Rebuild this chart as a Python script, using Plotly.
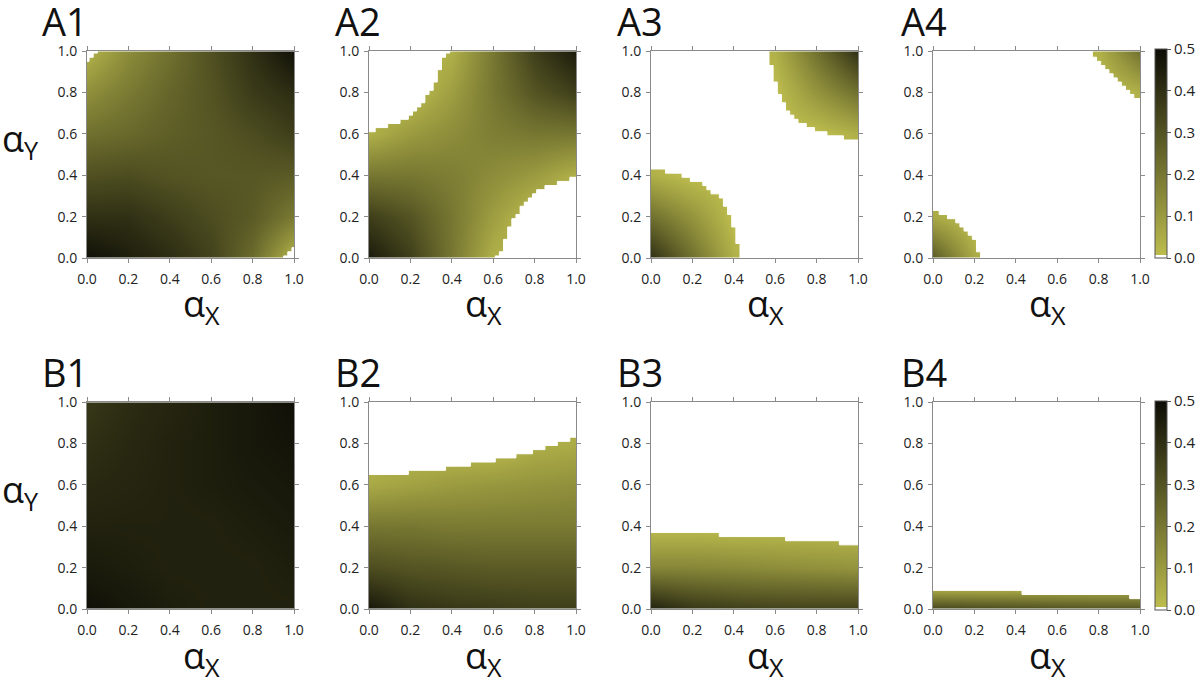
import plotly.graph_objects as go

# ---------------- data ----------------
# colour-field nodes (value of the mapped quantity, 0 .. 0.5)
grid_x = [0.0, 0.2, 0.4, 0.6, 0.8, 1.0]
grid_y = [0.0, 0.2, 0.4, 0.6, 0.8, 1.0]
b4_y = [0.0, 0.1, 0.2, 0.4, 0.6, 0.8, 1.0]

a1_z = [[0.49, 0.45, 0.41, 0.35, 0.23, 0.03],
        [0.40, 0.40, 0.36, 0.32, 0.28, 0.19],
        [0.31, 0.32, 0.30, 0.29, 0.29, 0.28],
        [0.22, 0.24, 0.27, 0.29, 0.32, 0.36],
        [0.13, 0.19, 0.25, 0.30, 0.37, 0.41],
        [0.03, 0.14, 0.22, 0.31, 0.40, 0.49]]
a2_z = [[0.46, 0.36, 0.20, 0.04, 0.00, 0.00],
        [0.36, 0.30, 0.20, 0.09, 0.00, 0.00],
        [0.20, 0.20, 0.18, 0.14, 0.10, 0.04],
        [0.04, 0.10, 0.14, 0.18, 0.20, 0.20],
        [0.00, 0.00, 0.09, 0.20, 0.30, 0.36],
        [0.00, 0.00, 0.04, 0.20, 0.36, 0.46]]
a3_z = [[0.40, 0.22, 0.04, 0.00, 0.00, 0.00],
        [0.22, 0.12, 0.00, 0.00, 0.00, 0.00],
        [0.04, 0.00, 0.00, 0.00, 0.00, 0.00],
        [0.00, 0.00, 0.00, 0.00, 0.00, 0.04],
        [0.00, 0.00, 0.00, 0.00, 0.12, 0.22],
        [0.00, 0.00, 0.00, 0.04, 0.22, 0.40]]
a4_z = [[0.28, 0.06, 0.00, 0.00, 0.00, 0.00],
        [0.06, 0.00, 0.00, 0.00, 0.00, 0.00],
        [0.00, 0.00, 0.00, 0.00, 0.00, 0.00],
        [0.00, 0.00, 0.00, 0.00, 0.00, 0.00],
        [0.00, 0.00, 0.00, 0.00, 0.00, 0.04],
        [0.00, 0.00, 0.00, 0.00, 0.04, 0.22]]
b1_z = [[0.49, 0.47, 0.45, 0.44, 0.44, 0.44],
        [0.46, 0.45, 0.44, 0.44, 0.44, 0.45],
        [0.44, 0.44, 0.44, 0.44, 0.45, 0.46],
        [0.42, 0.43, 0.44, 0.45, 0.46, 0.47],
        [0.40, 0.42, 0.44, 0.45, 0.47, 0.48],
        [0.38, 0.41, 0.43, 0.45, 0.47, 0.49]]
b2_z = [[0.47, 0.40, 0.38, 0.37, 0.36, 0.36],
        [0.32, 0.30, 0.29, 0.28, 0.28, 0.28],
        [0.20, 0.20, 0.19, 0.19, 0.19, 0.19],
        [0.06, 0.08, 0.10, 0.11, 0.12, 0.13],
        [0.00, 0.00, 0.00, 0.00, 0.04, 0.05],
        [0.00, 0.00, 0.00, 0.00, 0.00, 0.00]]
b3_z = [[0.44, 0.38, 0.36, 0.35, 0.35, 0.35],
        [0.16, 0.16, 0.15, 0.14, 0.13, 0.12],
        [0.00, 0.00, 0.00, 0.00, 0.00, 0.00],
        [0.00, 0.00, 0.00, 0.00, 0.00, 0.00],
        [0.00, 0.00, 0.00, 0.00, 0.00, 0.00],
        [0.00, 0.00, 0.00, 0.00, 0.00, 0.00]]
b4_z = [[0.34, 0.33, 0.32, 0.31, 0.30, 0.30],
        [0.04, 0.04, 0.04, 0.04, 0.04, 0.04],
        [0.00, 0.00, 0.00, 0.00, 0.00, 0.00],
        [0.00, 0.00, 0.00, 0.00, 0.00, 0.00],
        [0.00, 0.00, 0.00, 0.00, 0.00, 0.00],
        [0.00, 0.00, 0.00, 0.00, 0.00, 0.00],
        [0.00, 0.00, 0.00, 0.00, 0.00, 0.00]]

# staircase limits of the coloured region (white outside)
# *_top: coloured up to y (white above) from x on;  *_bot: white below y from x on
a1_top_x = [0.00, 0.01, 0.03, 0.05]
a1_top_y = [0.95, 0.97, 0.99, 1.00]
a1_bot_x = [0.00, 0.95, 0.97, 0.99]
a1_bot_y = [0.00, 0.01, 0.03, 0.05]

a2_top_x = [0.00, 0.03, 0.09, 0.15, 0.19, 0.21, 0.23, 0.25, 0.27, 0.29, 0.31, 0.33, 0.35, 0.37, 0.39]
a2_top_y = [0.61, 0.63, 0.65, 0.67, 0.69, 0.71, 0.73, 0.75, 0.79, 0.81, 0.85, 0.91, 0.97, 0.99, 1.00]
a2_bot_x = [0.00, 0.61, 0.63, 0.65, 0.67, 0.69, 0.71, 0.73, 0.75, 0.77, 0.79, 0.81, 0.85, 0.91, 0.97]
a2_bot_y = [0.00, 0.01, 0.03, 0.09, 0.15, 0.19, 0.21, 0.25, 0.27, 0.29, 0.31, 0.33, 0.35, 0.37, 0.39]

a3_top_x = [0.00, 0.07, 0.15, 0.19, 0.25, 0.27, 0.29, 0.33, 0.35, 0.37, 0.39, 0.41, 0.43, 0.57]
a3_top_y = [0.43, 0.41, 0.39, 0.37, 0.35, 0.33, 0.31, 0.29, 0.25, 0.21, 0.15, 0.07, 0.00, 1.00]
a3_bot_x = [0.00, 0.57, 0.59, 0.61, 0.63, 0.65, 0.67, 0.69, 0.71, 0.75, 0.79, 0.85, 0.93]
a3_bot_y = [0.00, 0.93, 0.85, 0.79, 0.75, 0.71, 0.69, 0.67, 0.65, 0.63, 0.61, 0.59, 0.57]

a4_top_x = [0.00, 0.03, 0.07, 0.11, 0.13, 0.15, 0.17, 0.19, 0.21, 0.23, 0.77]
a4_top_y = [0.23, 0.21, 0.19, 0.17, 0.15, 0.13, 0.11, 0.09, 0.03, 0.00, 1.00]
a4_bot_x = [0.00, 0.77, 0.79, 0.81, 0.83, 0.85, 0.87, 0.89, 0.91, 0.93, 0.95, 0.97]
a4_bot_y = [0.00, 0.97, 0.95, 0.93, 0.91, 0.89, 0.87, 0.85, 0.83, 0.81, 0.79, 0.77]

b1_top_x = [0.00]
b1_top_y = [1.00]
b2_top_x = [0.00, 0.19, 0.37, 0.49, 0.61, 0.71, 0.79, 0.85, 0.91, 0.97]
b2_top_y = [0.65, 0.67, 0.69, 0.71, 0.73, 0.75, 0.77, 0.79, 0.81, 0.83]
b3_top_x = [0.00, 0.33, 0.65, 0.91]
b3_top_y = [0.37, 0.35, 0.33, 0.31]
b4_top_x = [0.00, 0.43, 0.95]
b4_top_y = [0.09, 0.07, 0.05]
b_bot_x = [0.00]
b_bot_y = [0.00]

panel_labels = ["A1", "A2", "A3", "A4", "B1", "B2", "B3", "B4"]
tick_vals = [0.0, 0.2, 0.4, 0.6, 0.8, 1.0]
tick_text = ["0.0", "0.2", "0.4", "0.6", "0.8", "1.0"]
cbar_vals = [0.0, 0.1, 0.2, 0.3, 0.4, 0.5]
cbar_text = ["0.0", "0.1", "0.2", "0.3", "0.4", "0.5"]

# ---------------- figure ----------------
W, H = 1200, 687
lefts = [87, 369, 651, 933]
tops = [51, 402]
pw = ph = 207
label_left = [42, 335, 617, 901]

FONT = "Open Sans"
AXIS_GREY = "#8a8a8a"


def px_x(p):
    return p / W


def px_y(p):
    return 1 - p / H


def upper_poly(xs, ys):
    px, py = [-0.02, -0.02], [1.02, ys[0]]
    for k in range(len(xs)):
        x_end = xs[k + 1] if k + 1 < len(xs) else 1.02
        px.append(x_end); py.append(ys[k])
        if k + 1 < len(xs):
            px.append(x_end); py.append(ys[k + 1])
    px.append(1.02); py.append(1.02)
    return px, py


def lower_poly(xs, ys):
    px, py = [-0.02, -0.02], [-0.02, ys[0]]
    for k in range(len(xs)):
        x_end = xs[k + 1] if k + 1 < len(xs) else 1.02
        px.append(x_end); py.append(ys[k])
        if k + 1 < len(xs):
            px.append(x_end); py.append(ys[k + 1])
    px.append(1.02); py.append(-0.02)
    return px, py


panels = [
    (a1_z, grid_y, a1_top_x, a1_top_y, a1_bot_x, a1_bot_y),
    (a2_z, grid_y, a2_top_x, a2_top_y, a2_bot_x, a2_bot_y),
    (a3_z, grid_y, a3_top_x, a3_top_y, a3_bot_x, a3_bot_y),
    (a4_z, grid_y, a4_top_x, a4_top_y, a4_bot_x, a4_bot_y),
    (b1_z, grid_y, b1_top_x, b1_top_y, b_bot_x, b_bot_y),
    (b2_z, grid_y, b2_top_x, b2_top_y, b_bot_x, b_bot_y),
    (b3_z, grid_y, b3_top_x, b3_top_y, b_bot_x, b_bot_y),
    (b4_z, b4_y, b4_top_x, b4_top_y, b_bot_x, b_bot_y),
]

colorscale = [[0.0, "#ffffff"], [0.012, "#ffffff"], [0.012, "#bcbc4e"], [1.0, "#0c0c06"]]

fig = go.Figure()
layout = dict(
    width=W, height=H, margin=dict(l=0, r=0, t=0, b=0, autoexpand=False),
    paper_bgcolor="white", plot_bgcolor="white",
    font=dict(family=FONT, color="#222"),
    showlegend=False, annotations=[],
)

for idx, (z, yy, tx, ty, bx, by) in enumerate(panels):
    row, col = divmod(idx, 4)
    n = idx + 1
    xa = "x" if n == 1 else f"x{n}"
    ya = "y" if n == 1 else f"y{n}"
    cax = "coloraxis" if row == 0 else "coloraxis2"
    fig.add_trace(go.Heatmap(x=grid_x, y=yy, z=z, zsmooth="best", coloraxis=cax,
                             xaxis=xa, yaxis=ya, hoverinfo="skip"))
    for poly in (upper_poly(tx, ty), lower_poly(bx, by)):
        fig.add_trace(go.Scatter(x=poly[0], y=poly[1], mode="lines", fill="toself",
                                 fillcolor="white", line=dict(width=1, color="white"),
                                 xaxis=xa, yaxis=ya, hoverinfo="skip", showlegend=False))
    L = lefts[col]
    T = tops[row]
    common = dict(range=[0, 1], tickvals=tick_vals, ticktext=tick_text, ticks="outside",
                  ticklen=4, tickwidth=1, tickcolor=AXIS_GREY, showline=True,
                  linecolor=AXIS_GREY, linewidth=1, mirror="ticks", showgrid=False,
                  zeroline=False, tickfont=dict(family=FONT, size=14, color="#222"),
                  fixedrange=True, automargin=False)
    layout["xaxis" if n == 1 else f"xaxis{n}"] = dict(
        common, domain=[px_x(L), px_x(L + pw)], anchor=ya, ticklabelstandoff=4)
    layout["yaxis" if n == 1 else f"yaxis{n}"] = dict(
        common, domain=[px_y(T + ph), px_y(T)], anchor=xa, ticklabelstandoff=2)
    # panel label
    layout["annotations"].append(dict(
        text=panel_labels[idx], xref="paper", yref="paper", showarrow=False,
        x=px_x(label_left[col] - 2), xanchor="left", y=px_y(T - 30), yanchor="middle",
        font=dict(family=FONT, size=38, color="#111")))
    # x-axis title
    layout["annotations"].append(dict(
        text="α<sub>X</sub>", xref="paper", yref="paper", showarrow=False,
        x=px_x(L + 94), xanchor="left", y=px_y(T + 255), yanchor="middle",
        font=dict(family=FONT, size=36, color="#111")))
    if col == 0:
        layout["annotations"].append(dict(
            text="α<sub>Y</sub>", xref="paper", yref="paper", showarrow=False,
            x=px_x(0), xanchor="left", y=px_y(T + 89), yanchor="middle",
            font=dict(family=FONT, size=36, color="#111")))

cb_common = dict(x=px_x(1155), xanchor="left", thickness=12, thicknessmode="pixels",
                 lenmode="fraction", len=209 / H, yanchor="top", xpad=0, ypad=0,
                 tickvals=cbar_vals, ticktext=cbar_text, ticks="outside", ticklen=4,
                 tickcolor="#555", outlinewidth=1, outlinecolor="#555",
                 tickfont=dict(family=FONT, size=15, color="#222"))
layout["coloraxis"] = dict(cmin=0, cmax=0.5, colorscale=colorscale,
                           colorbar=dict(cb_common, y=px_y(49)))
layout["coloraxis2"] = dict(cmin=0, cmax=0.5, colorscale=colorscale,
                            colorbar=dict(cb_common, y=px_y(401)))

fig.update_layout(**layout)
fig.write_html("out.html", config={"displayModeBar": False},
               post_script="document.body.style.margin='0';")
